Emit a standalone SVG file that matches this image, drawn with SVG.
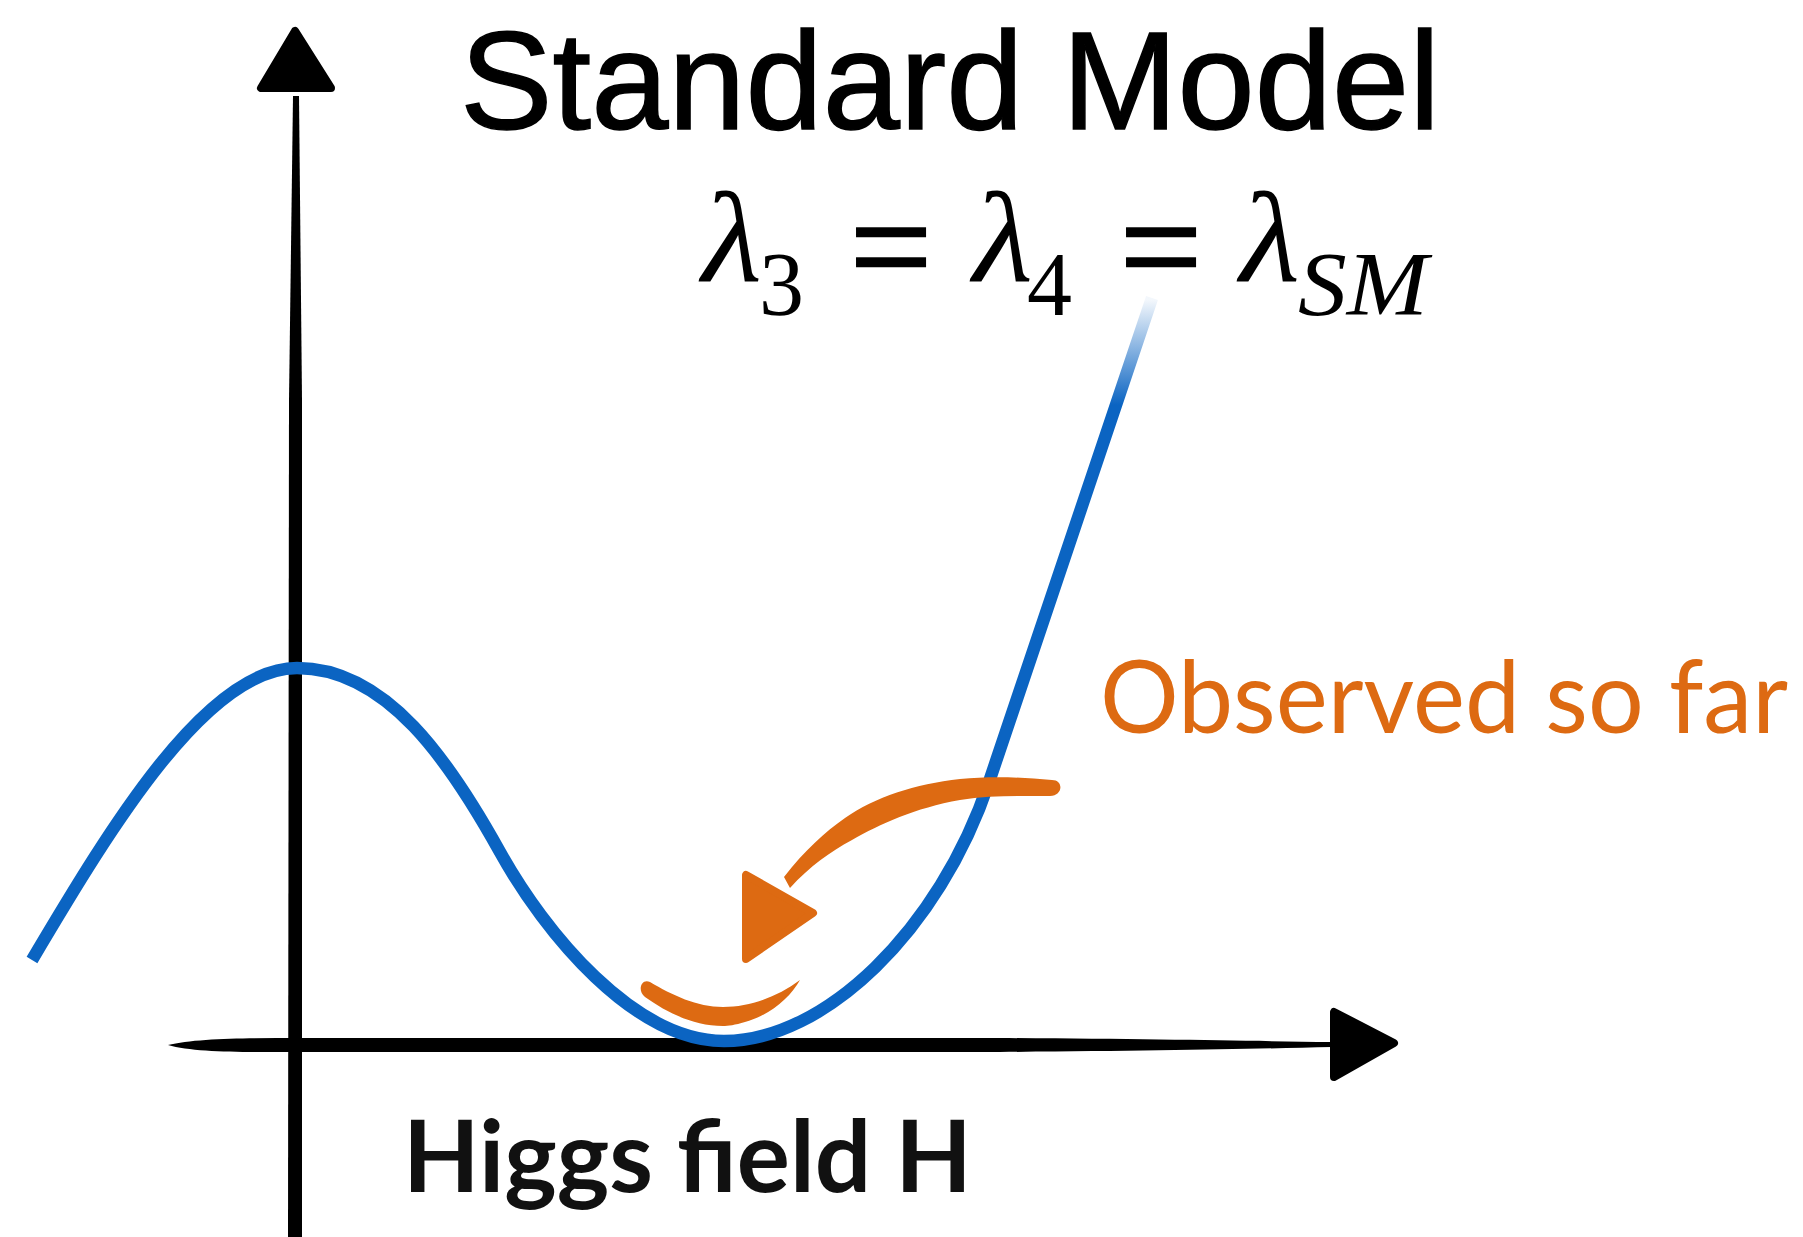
<svg xmlns="http://www.w3.org/2000/svg" width="1803" height="1237" viewBox="0 0 1803 1237">
<style>
.sans{font-family:Lato,"Liberation Sans","Noto Sans",sans-serif}
.title{font-family:"Liberation Sans",Arial,sans-serif;stroke:#000;stroke-width:1.5}
.serif{font-family:"Liberation Serif","DejaVu Serif",serif;fill:#000}
.eq{stroke:#000;stroke-width:2.5}
.ink{fill:#000}
.orange{fill:#dd6a12}
.arrowhead{fill:#000;stroke:#000;stroke-width:8;stroke-linejoin:round}
</style>
<defs>
<linearGradient id="fade" gradientUnits="userSpaceOnUse" x1="0" y1="300" x2="0" y2="405">
<stop offset="0" stop-color="#0b64c2" stop-opacity="0.05"/>
<stop offset="1" stop-color="#0b64c2" stop-opacity="1"/>
</linearGradient>
</defs>
<rect width="1803" height="1237" fill="#fff"/>

<g id="axes">
<path class="ink" d="M293,96 L299,96 L302,400 L302,1237 L288,1237 L289,400 Z"/>
<path class="arrowhead" d="M295,31 L261,88 L331,88 Z"/>
<path class="ink" d="M168,1045 C195,1038 250,1038 300,1038 L1000,1038 C1150,1039 1250,1041 1332,1042 L1332,1047 C1250,1049 1150,1051 1000,1052 L300,1052 C250,1052 195,1053 168,1045 Z"/>
<path class="arrowhead" d="M1334,1012 L1334,1077 L1394,1043 Z"/>
</g>

<g id="potential-curve">
<path fill="none" stroke="url(#fade)" stroke-width="12.5" stroke-linecap="butt" stroke-linejoin="round" d="M32,960 C112,825 207,668 297,668 C387,668 450,762 500,852 C545,933 634,1041 724,1041 C824,1041 939,931 989,782 L1152,298"/>
</g>

<g id="title">
<text class="title ink" x="460" y="129" font-size="140" textLength="980" lengthAdjust="spacingAndGlyphs">Standard Model</text>
</g>

<g id="formula" class="serif">
<text x="702" y="282" font-size="130" font-style="italic" textLength="60" lengthAdjust="spacingAndGlyphs">λ</text>
<text x="759" y="315" font-size="90">3</text>
<text class="eq" x="850" y="297" font-size="150" textLength="82" lengthAdjust="spacingAndGlyphs">=</text>
<text x="973" y="282" font-size="130" font-style="italic" textLength="60" lengthAdjust="spacingAndGlyphs">λ</text>
<text x="1027" y="315" font-size="90">4</text>
<text class="eq" x="1120" y="297" font-size="150" textLength="82" lengthAdjust="spacingAndGlyphs">=</text>
<text x="1240" y="282" font-size="130" font-style="italic" textLength="60" lengthAdjust="spacingAndGlyphs">λ</text>
<text x="1298" y="315" font-size="90" font-style="italic" textLength="130" lengthAdjust="spacingAndGlyphs">SM</text>
</g>

<g id="observed-label">
<text class="sans orange" x="1100" y="733" font-size="100" textLength="688" lengthAdjust="spacingAndGlyphs">Observed so far</text>
</g>

<g id="x-axis-label">
<text class="sans" x="403" y="1192" font-size="100" font-weight="700" fill="#111" textLength="569" lengthAdjust="spacingAndGlyphs">Higgs field H</text>
</g>

<g id="connectors">
<path class="orange" d="M1052,780 C1020,777 990,776 960,779 C915,784 875,797 845,818 C825,832 805,850 784,877 L790,888 C810,866 830,852 852,840 C880,824 915,808 960,800 C990,795 1020,796 1050,796 C1063,796 1064,780 1052,780 Z"/>
<path class="orange" stroke="#dd6a12" stroke-width="8" stroke-linejoin="round" d="M746,875 L746,959 L813,913 Z"/>
<path class="orange" d="M650,982 C672,995 697,1007 723,1007 C750,1007 777,997 800,980 C790,998 770,1015 745,1022 C735,1025 728,1026 723,1026 C693,1026 666,1012 645,997 C637,991 641,978 650,982 Z"/>
</g>
</svg>
